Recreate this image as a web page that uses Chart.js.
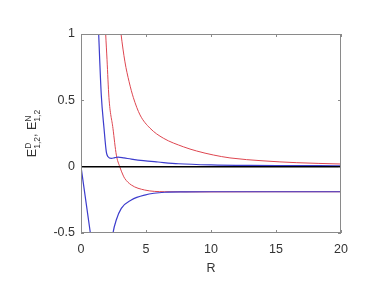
<!DOCTYPE html>
<html>
<head>
<meta charset="utf-8">
<script src="https://cdn.jsdelivr.net/npm/chart.js@4.4.0/dist/chart.umd.min.js"></script>
<style>
  html, body { margin: 0; padding: 0; background: #fff; }
  #wrap { width: 382px; height: 291px; }
</style>
</head>
<body>
<div id="wrap"><canvas id="myChart" width="382" height="291"></canvas></div>
<script>
// values
var xTicks = [0, 5, 10, 15, 20];
var yTicks = [-0.5, 0, 0.5, 1];

var zeroX = [0, 20];
var zeroY = [0, 0];

var blueUpperX = [1.2, 1.36, 1.56, 1.77, 1.95, 2.08, 2.33, 2.6, 2.85, 3.3, 3.87, 4.8, 5.92, 7.5, 10, 13, 16, 20];
var blueUpperY = [1.4, 1.0, 0.54, 0.29, 0.11, 0.075, 0.062, 0.068, 0.072, 0.066, 0.057, 0.045, 0.035, 0.022, 0.013, 0.009, 0.008, 0.007];

var blueLeftX = [0, 0.72, 0.9];
var blueLeftY = [0, -0.5, -0.625];

var blueLowerX = [2.3, 2.46, 2.72, 3.1, 3.87, 4.9, 6.44, 8, 10, 15, 20];
var blueLowerY = [-0.62, -0.5, -0.4, -0.314, -0.251, -0.214, -0.193, -0.19, -0.189, -0.189, -0.189];

var red1X = [1.8, 1.9, 2.0, 2.15, 2.46, 2.72, 2.98, 3.23, 3.36, 3.87, 4.9, 6.44, 8, 10, 15, 20];
var red1Y = [1.25, 1.0, 0.81, 0.52, 0.288, 0.087, 0, -0.063, -0.088, -0.138, -0.176, -0.189, -0.19, -0.19, -0.189, -0.189];

var red2X = [2.95, 3.08, 3.38, 3.7, 4.03, 4.54, 5.31, 6.33, 7.87, 8.9, 10.18, 11.46, 14.0, 16.6, 20];
var red2Y = [1.12, 1.0, 0.79, 0.64, 0.52, 0.39, 0.29, 0.215, 0.15, 0.118, 0.088, 0.066, 0.044, 0.03, 0.02];

var BLUE = "rgb(60,60,205)";
var RED = "rgb(222,70,80)";
var TEXT = "#333";
var BOX = "#8a8a8a";
var FAM = "'Liberation Sans', Arial, sans-serif";

function pts(xs, ys) {
  var out = [];
  for (let i = 0; i < xs.length; i++) {
    out.push({ x: xs[i], y: ys[i] });
  }
  return out;
}

function line(xs, ys, color, width) {
  return {
    data: pts(xs, ys),
    showLine: true,
    borderColor: color,
    borderWidth: width,
    pointRadius: 0,
    fill: false,
    cubicInterpolationMode: "monotone",
  };
}

// matlab style box with inward ticks, and the y label with sub/superscripts
var boxPlugin = {
  id: "box",
  afterDraw(chart) {
    var ctx = chart.ctx;
    var a = chart.chartArea;
    var xs = chart.scales.x;
    var ys = chart.scales.y;
    ctx.save();
    ctx.strokeStyle = BOX;
    ctx.lineWidth = 1;
    ctx.strokeRect(a.left + 0.5, a.top + 0.5, a.right - a.left - 1, a.bottom - a.top - 1);
    ctx.beginPath();
    xTicks.forEach(function (v) {
      var px = Math.round(xs.getPixelForValue(v)) + 0.5;
      ctx.moveTo(px, a.bottom);
      ctx.lineTo(px, a.bottom - 3);
      ctx.moveTo(px, a.top);
      ctx.lineTo(px, a.top + 3);
    });
    yTicks.forEach(function (v) {
      var py = Math.round(ys.getPixelForValue(v)) + 0.5;
      ctx.moveTo(a.left, py);
      ctx.lineTo(a.left + 3, py);
      ctx.moveTo(a.right, py);
      ctx.lineTo(a.right - 3, py);
    });
    ctx.stroke();

    // y title: E^D_{1,2}, E^N_{1,2}
    var parts = [
      { t: "E", size: 12.5, dy: 0 },
      { t: "D", size: 8.5, dy: -5, sub: "1,2" },
      { t: ", ", size: 12.5, dy: 0 },
      { t: "E", size: 12.5, dy: 0 },
      { t: "N", size: 8.5, dy: -5, sub: "1,2" },
    ];
    var total = 0;
    parts.forEach(function (p) {
      ctx.font = p.size + "px " + FAM;
      var w = ctx.measureText(p.t).width;
      if (p.sub) w = Math.max(w, ctx.measureText(p.sub).width);
      p.w = w;
      total += w;
    });
    ctx.translate(36, (a.top + a.bottom) / 2);
    ctx.rotate(-Math.PI / 2);
    ctx.fillStyle = TEXT;
    ctx.textBaseline = "alphabetic";
    ctx.textAlign = "left";
    var cx = -total / 2;
    parts.forEach(function (p) {
      ctx.font = p.size + "px " + FAM;
      ctx.fillText(p.t, cx, p.dy);
      if (p.sub) ctx.fillText(p.sub, cx, 4);
      cx += p.w;
    });
    ctx.restore();
  },
};

var ctx = document.getElementById("myChart").getContext("2d");
var chart = new Chart(ctx, {
  type: "scatter",
  data: {
    datasets: [
      line(zeroX, zeroY, "#000", 1.5),
      line(blueUpperX, blueUpperY, BLUE, 1.2),
      line(blueLeftX, blueLeftY, BLUE, 1.2),
      line(blueLowerX, blueLowerY, BLUE, 1.2),
      line(red1X, red1Y, RED, 1),
      line(red2X, red2Y, RED, 1),
    ],
  },
  options: {
    responsive: false,
    animation: false,
    layout: { padding: { left: 0, top: 34, right: 41, bottom: 0 } },
    plugins: {
      legend: { display: false },
      tooltip: { enabled: false },
    },
    scales: {
      x: {
        type: "linear",
        min: 0,
        max: 20,
        grid: { display: false, drawTicks: false },
        border: { display: false },
        afterFit: function (s) { s.height = 58; },
        ticks: {
          stepSize: 5,
          padding: 9,
          color: TEXT,
          maxRotation: 0,
          font: { family: FAM, size: 12.5 },
        },
        title: {
          display: true,
          text: "R",
          color: TEXT,
          padding: { top: 0, bottom: 15 },
          font: { family: FAM, size: 12.5 },
        },
      },
      y: {
        type: "linear",
        min: -0.5,
        max: 1,
        grid: { display: false, drawTicks: false },
        border: { display: false },
        afterFit: function (s) { s.width = 81; },
        ticks: {
          stepSize: 0.5,
          padding: 6,
          color: TEXT,
          font: { family: FAM, size: 12.5 },
          callback: function (v) { return String(v); },
        },
      },
    },
  },
  plugins: [boxPlugin],
});
</script>
</body>
</html>
